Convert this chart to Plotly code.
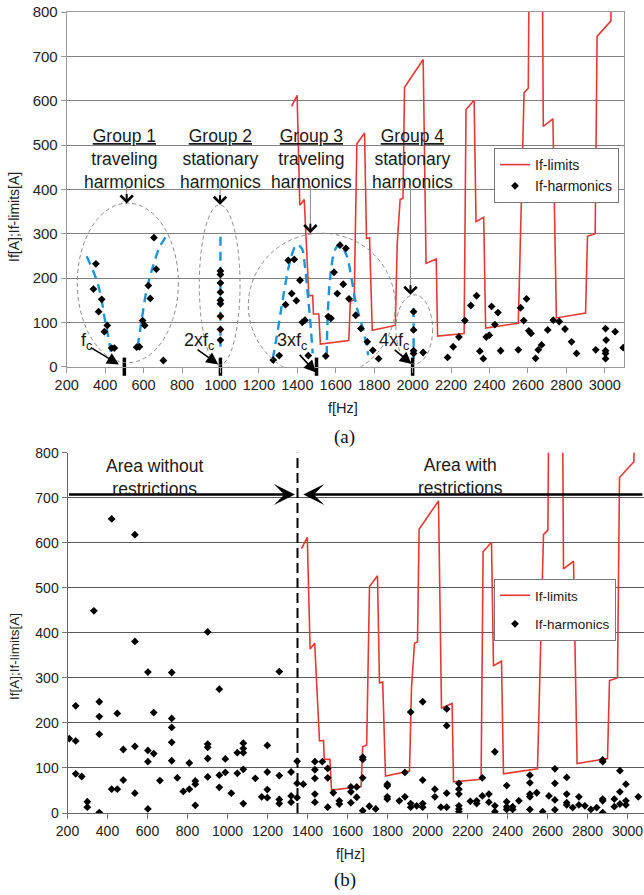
import plotly.graph_objects as go

W, H = 644, 895
FONT = "Arial, Liberation Sans, sans-serif"
SERIF = "Times New Roman, Liberation Serif, serif"

# ---- If-limits curve (same limit profile in both panels) ----
limit_freq = [1370, 1399, 1413, 1436, 1460, 1480, 1484, 1512, 1520, 1668, 1676, 1696,
              1710, 1750, 1760, 1776, 1790, 1910, 1920, 1935, 1950, 1958, 2055, 2070,
              2123, 2130, 2268, 2278, 2320, 2330, 2370, 2380, 2550, 2560, 2580, 2602,
              2610, 2672, 2680, 2730, 2748, 2900, 2910, 2950, 2960, 3032, 3040]
limit_amp = [587, 612, 364, 377, 160, 161, 119, 119, 51, 59, 147, 151,
             503, 527, 289, 291, 82, 93, 278, 377, 380, 630, 693, 233,
             243, 69, 75, 580, 601, 327, 337, 87, 98, 258, 618, 628,
             1150, 1150, 542, 559, 110, 121, 294, 300, 745, 780, 1150]

# ---- panel (a): measured harmonics ----
harm_a_freq = [352, 339, 382, 366, 396, 411, 434, 448, 564, 578, 595, 606, 625, 635, 654, 666, 703,
               1000, 1000, 1000, 1000, 1000, 1000, 1000, 1000, 1000,
               1275, 1306, 1339, 1353, 1384, 1371, 1395, 1414, 1426, 1440, 1457,
               1548, 1561, 1575, 1591, 1608, 1622, 1639, 1653, 1669, 1704, 1731, 1764, 1793, 1823,
               2005, 2005, 2005, 2005, 2055,
               2182, 2211, 2241, 2272, 2303, 2333, 2350, 2368, 2383, 2399, 2411, 2428, 2444, 2458,
               2550, 2562, 2578, 2593, 2605, 2616, 2640, 2654, 2671, 2703, 2732, 2763, 2793, 2827,
               2853, 2953, 3004, 3007, 3004, 3004, 3004, 3054, 3096]
harm_a_amp = [232, 175, 152, 124, 79, 93, 42, 42, 44, 45, 104, 93, 183, 154, 291, 220, 14,
              216, 208, 189, 168, 150, 142, 114, 84, 60,
              15, 25, 140, 240, 242, 165, 149, 195, 100, 105, 25,
              24, 113, 109, 213, 165, 274, 186, 267, 153, 116, 86, 56, 37, 18,
              124, 83, 36, 30, 32,
              21, 45, 67, 104, 138, 160, 35, 18, 67, 71, 136, 95, 122, 36,
              38, 133, 104, 153, 81, 75, 19, 38, 49, 83, 105, 102, 85, 56,
              30, 38, 86, 60, 36, 30, 18, 79, 43]

# ---- panel (b): measured harmonics ----
harm_b_freq = [332, 421, 537, 537, 901,
               209, 241, 241, 241, 271, 299, 299, 359, 359, 359, 359, 421, 449, 449, 479, 479,
               537, 537, 602, 602, 602, 602, 631, 631, 662, 721, 721, 721, 721, 721, 749, 779,
               809, 809, 839, 839, 839, 901, 901, 901, 901, 959, 959, 959, 989, 989, 1019,
               1049, 1049, 1079, 1079, 1079, 1079, 1079, 1139, 1171, 1199, 1199, 1199, 1199,
               1259, 1259, 1259, 1259, 1318, 1318, 1318, 1348, 1348, 1348, 1379,
               1437, 1437, 1437, 1437, 1437, 1474, 1501, 1501, 1501, 1529, 1559, 1559,
               1617, 1617, 1617, 1646, 1646, 1676, 1676, 1676, 1676, 1709, 1741,
               1799, 1799, 1799, 1799, 1859, 1887, 1887, 1916, 1916, 1916, 1946,
               1976, 1976, 1976, 1976, 2037, 2037, 2067, 2096, 2096, 2096, 2096,
               2157, 2157, 2157, 2157, 2157, 2157, 2214, 2246, 2246, 2274, 2274, 2307, 2307,
               2337, 2337, 2337, 2396, 2396, 2396, 2396, 2426, 2426, 2457,
               2512, 2512, 2512, 2512, 2512, 2546, 2576, 2607, 2637, 2637, 2637, 2637,
               2696, 2696, 2696, 2696, 2726, 2757, 2757, 2787, 2817, 2846,
               2876, 2876, 2876, 2876, 2876, 2934, 2934, 2962, 2962, 2962,
               2992, 2992, 2992, 3054]
harm_b_amp = [449, 653, 618, 381, 402,
              165, 238, 160, 87, 81, 25, 13, 247, 214, 175, 1, 53, 221, 53, 141, 73,
              148, 44, 313, 139, 114, 9, 223, 132, 72, 312, 210, 190, 157, 116, 78, 48,
              111, 53, 71, 64, 17, 153, 146, 121, 80, 275, 84, 57, 120, 90, 44,
              134, 88, 155, 143, 134, 97, 21, 77, 36, 150, 91, 52, 34,
              314, 83, 30, 21, 91, 38, 24, 115, 66, 34, 64,
              114, 96, 77, 42, 24, 114, 99, 78, 13, 45, 27, 20,
              58, 47, 23, 58, 35, 124, 119, 78, 5, 15, 9,
              64, 60, 36, 31, 27, 90, 36, 224, 21, 13, 16,
              247, 73, 21, 13, 53, 36, 13, 231, 194, 44, 13,
              66, 53, 42, 16, 9, 3, 26, 27, 21, 78, 38, 42, 24,
              136, 16, 3, 61, 25, 14, 8, 14, 8, 27,
              84, 67, 42, 36, 8, 45, 3, 38, 98, 66, 29, 7,
              79, 42, 23, 18, 12, 36, 18, 16, 8, 12,
              118, 114, 31, 27, 1, 31, 14, 94, 47, 20,
              64, 27, 18, 36]

# ---- hand-drawn guide curves for the harmonic groups in panel (a) ----
g1_left_freq = [304, 356, 382, 399, 416, 429]
g1_left_amp = [249, 195, 150, 105, 68, 34]
g1_right_freq = [569, 590, 616, 651, 685, 729]
g1_right_amp = [45, 105, 173, 229, 271, 301]
g2_freq = [1000, 1000]
g2_amp = [293, 45]
g3_left_freq = [1272, 1293, 1318, 1345, 1371, 1397, 1423, 1440, 1455, 1468, 1480]
g3_left_amp = [17, 68, 135, 203, 252, 275, 267, 225, 160, 100, 30]
g3_right_freq = [1553, 1558, 1570, 1596, 1622, 1657, 1683, 1709, 1743, 1769]
g3_right_amp = [26, 110, 196, 263, 276, 250, 196, 135, 83, 26]
g4_freq = [2005, 2005]
g4_amp = [132, 18]

# group outlines: (f_min, f_max, A_min, A_max)
group_boxes = [(255, 781, 9, 369), (890, 1102, 4, 365),
               (1145, 1910, -25, 301), (1913, 2104, 6, 162)]
group_centers = [500, 998, 1475, 2000]
group_titles = ["Group 1", "Group 2", "Group 3", "Group 4"]
group_kinds = ["traveling", "stationary", "traveling", "stationary"]
group_arrow_freq = [512, 998, 1468, 1989]
group_arrow_tip = [368, 365, 301, 162]

# multiples of the carrier frequency
fc_multiples = [500, 1000, 1500, 2000]
fc_labels = ["f<sub>c</sub>", "2xf<sub>c</sub>", "3xf<sub>c</sub>", "4xf<sub>c</sub>"]
fc_label_pos = [(301, 57), (889, 57), (1372, 56), (1903, 56)]
fc_arrow_tail = [(318, 45), (873, 41), (1405, 30), (1899, 41)]
fc_arrow_tip = [(472, 5), (989, 5), (1497, -13), (1995, 6)]

boundary_freq = 1350

x_ticks = list(range(200, 3001, 200))
y_ticks = list(range(0, 801, 100))

RED = "#e53935"
BLUE = "#1a94db"


def px_x(x):
    return x / W


def px_y(y):
    return 1 - y / H


def paper_text(x, y, text, size, family=FONT, angle=0, color="#222"):
    return dict(xref="paper", yref="paper", x=px_x(x), y=px_y(y), text=text,
                xanchor="center", yanchor="middle", textangle=angle, showarrow=False,
                font=dict(family=family, size=size, color=color))


fig = go.Figure()

# ---------- panel (a) ----------
fig.add_trace(go.Scatter(x=limit_freq, y=limit_amp, mode="lines", name="If-limits",
                         line=dict(color=RED, width=1.6), xaxis="x", yaxis="y",
                         legend="legend"))
for fx, fy in [(g1_left_freq, g1_left_amp), (g1_right_freq, g1_right_amp), (g2_freq, g2_amp),
               (g3_left_freq, g3_left_amp), (g3_right_freq, g3_right_amp), (g4_freq, g4_amp)]:
    fig.add_trace(go.Scatter(x=fx, y=fy, mode="lines", showlegend=False, hoverinfo="skip",
                             line=dict(color=BLUE, width=2.4, dash="9px,6px", shape="spline"),
                             xaxis="x", yaxis="y"))
fig.add_trace(go.Scatter(x=harm_a_freq, y=harm_a_amp, mode="markers", name="If-harmonics",
                         marker=dict(symbol="diamond", size=6, color="black"),
                         xaxis="x", yaxis="y", legend="legend"))
fig.add_trace(go.Scatter(x=fc_multiples, y=[0] * len(fc_multiples), mode="markers",
                         showlegend=False, cliponaxis=False, hoverinfo="skip",
                         marker=dict(symbol="line-ns", size=13, color="black",
                                     line=dict(width=3.5, color="black")),
                         xaxis="x", yaxis="y"))

# ---------- panel (b) ----------
fig.add_trace(go.Scatter(x=limit_freq, y=limit_amp, mode="lines", name="If-limits",
                         line=dict(color=RED, width=1.6), xaxis="x2", yaxis="y2",
                         legend="legend2", legendgroup="lim"))
fig.add_trace(go.Scatter(x=harm_b_freq, y=harm_b_amp, mode="markers", name="If-harmonics",
                         marker=dict(symbol="diamond", size=6, color="black"),
                         xaxis="x2", yaxis="y2", legend="legend2", legendgroup="harm"))

shapes = []
for (f0, f1, a0, a1) in group_boxes:
    shapes.append(dict(type="circle", xref="x", yref="y", x0=f0, x1=f1, y0=a0, y1=a1,
                       line=dict(color="#8a8a8a", width=1, dash="4px,3px")))
shapes.append(dict(type="line", xref="x2", yref="y2 domain", x0=boundary_freq, x1=boundary_freq,
                   y0=0, y1=1, line=dict(color="black", width=2, dash="10px,5px")))

annotations = []
for c, t, k in zip(group_centers, group_titles, group_kinds):
    annotations.append(dict(xref="x", yref="y", x=c, y=468, showarrow=False,
                            xanchor="center", yanchor="middle",
                            text=f"<u>{t}</u><br>{k}<br>harmonics", align="center",
                            font=dict(family=FONT, size=17.5, color="#1a1a1a")))
for f, tip in zip(group_arrow_freq, group_arrow_tip):
    annotations.append(dict(xref="x", yref="y", axref="x", ayref="y", x=f, y=tip, ax=f, ay=412,
                            text="", showarrow=True, arrowhead=0, arrowwidth=1,
                            arrowcolor="#8c8c8c"))
    annotations.append(dict(xref="x", yref="y", x=f, y=tip, ax=0, ay=-11, text="",
                            showarrow=True, arrowhead=4, arrowwidth=2, arrowsize=1.2,
                            arrowcolor="black"))
for lab, (lx, ly) in zip(fc_labels, fc_label_pos):
    annotations.append(dict(xref="x", yref="y", x=lx, y=ly, text=lab, showarrow=False,
                            xanchor="center", yanchor="middle",
                            font=dict(family=FONT, size=18, color="#1a1a1a")))
for (tx, ty), (hx, hy) in zip(fc_arrow_tail, fc_arrow_tip):
    annotations.append(dict(xref="x", yref="y", axref="x", ayref="y", x=hx, y=hy, ax=tx, ay=ty,
                            text="", showarrow=True, arrowhead=2, arrowwidth=1.6,
                            arrowsize=1.5, arrowcolor="black"))

# panel (b) region arrows and labels
annotations.append(dict(xref="x2", yref="y2", axref="x2", ayref="y2", x=1337, y=707, ax=200,
                        ay=707, text="", showarrow=True, arrowhead=3, arrowwidth=2.5,
                        arrowsize=1.4, arrowcolor="black"))
annotations.append(dict(xref="x2", yref="y2", axref="x2", ayref="y2", x=1379, y=707, ax=3082,
                        ay=707, text="", showarrow=True, arrowhead=3, arrowwidth=2.5,
                        arrowsize=1.4, arrowcolor="black"))
annotations.append(paper_text(154, 477, "Area without<br>restrictions", 17.5, color="#1a1a1a"))
annotations.append(paper_text(460, 476, "Area with<br>restrictions", 17.5, color="#1a1a1a"))

# axis titles and captions
annotations += [
    paper_text(14, 217, "If[A];If-limits[A]", 14, angle=-90),
    paper_text(14, 657, "If[A];If-limits[A]", 13.5, angle=-90),
    paper_text(343, 407.7, "f[Hz]", 14.5),
    paper_text(351, 854, "f[Hz]", 14),
    paper_text(344, 436.7, "(a)", 19, family=SERIF, color="#111"),
    paper_text(345, 880, "(b)", 19, family=SERIF, color="#111"),
]

common_x = dict(tickvals=x_ticks, ticks="outside", ticklen=5, showgrid=False, zeroline=False,
                showline=True)
common_y = dict(tickvals=y_ticks, range=[0, 800], ticks="outside", ticklen=5, showgrid=True,
                zeroline=False, showline=True)

fig.update_layout(
    width=W, height=H, autosize=False,
    margin=dict(l=0, r=0, t=0, b=0, pad=0, autoexpand=False),
    paper_bgcolor="white", plot_bgcolor="white",
    font=dict(family=FONT, color="#222"),
    xaxis=dict(domain=[px_x(66.7), px_x(624)], range=[200, 3100], anchor="y",
               tickcolor="#999", linecolor="#9a9a9a", mirror=True,
               tickfont=dict(size=14.5, color="#222"), **common_x),
    yaxis=dict(domain=[px_y(366.7), px_y(12)], anchor="x", gridcolor="#808080",
               tickcolor="#999", linecolor="#9a9a9a", mirror=True,
               tickfont=dict(size=15, color="#222"), **common_y),
    xaxis2=dict(domain=[px_x(67.5), 1.0], range=[200, 3082.5], anchor="y2",
                tickcolor="#777", linecolor="#666",
                tickfont=dict(size=14, color="#222"), **common_x),
    yaxis2=dict(domain=[px_y(813), px_y(452.7)], anchor="x2", gridcolor="#5a5a5a",
                tickcolor="#777", linecolor="#666",
                tickfont=dict(size=14, color="#222"), **common_y),
    legend=dict(x=px_x(494), y=px_y(148), xanchor="left", yanchor="top",
                bgcolor="white", bordercolor="#777", borderwidth=1,
                traceorder="normal", tracegroupgap=0,
                font=dict(family=FONT, size=14, color="#1a1a1a")),
    legend2=dict(x=px_x(494), y=px_y(579), xanchor="left", yanchor="top",
                 bgcolor="white", bordercolor="#777", borderwidth=1,
                 traceorder="grouped", tracegroupgap=8,
                 font=dict(family=FONT, size=13.5, color="#1a1a1a")),
    shapes=shapes,
    annotations=annotations,
    showlegend=True,
)

fig.write_html("out.html")
